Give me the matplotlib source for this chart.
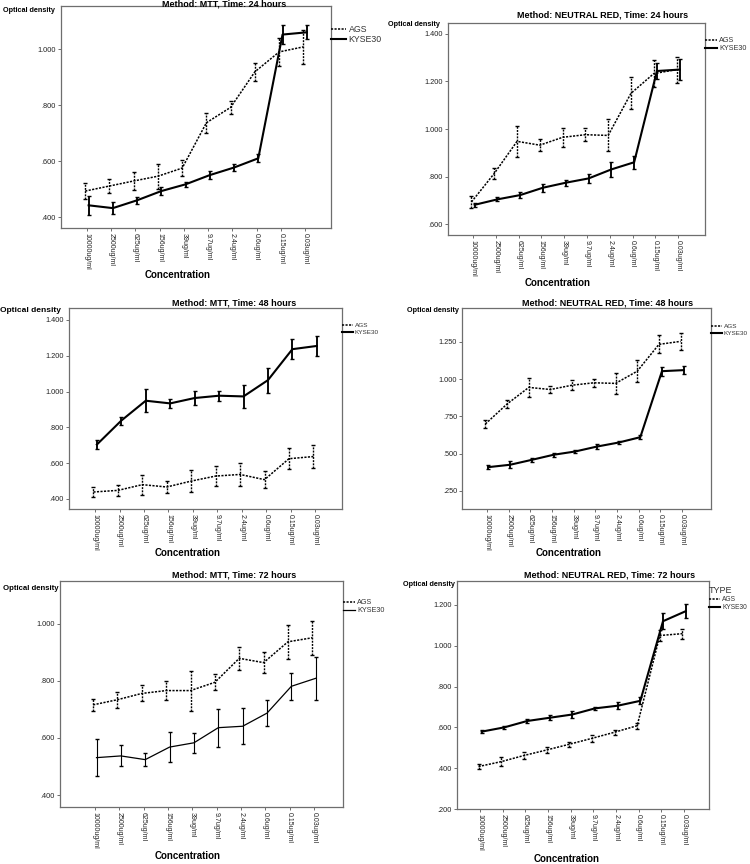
import numpy as np
import matplotlib
matplotlib.use('Agg')
import matplotlib.pyplot as plt

plt.rcParams['font.family'] = ['Liberation Sans', 'DejaVu Sans']

conc = ['10000ug/ml', '2500ug/ml', '625ug/ml', '156ug/ml', '39ug/ml',
        '9.7ug/ml', '2.4ug/ml', '0.6ug/ml', '0.15ug/ml', '0.03ug/ml']

# MTT 24 h
mtt24_ags = [0.493, 0.511, 0.529, 0.546, 0.575, 0.737, 0.792, 0.919, 0.990, 1.008]
mtt24_ags_err = [0.030, 0.025, 0.031, 0.045, 0.030, 0.036, 0.024, 0.033, 0.050, 0.060]
mtt24_kyse = [0.442, 0.432, 0.460, 0.493, 0.517, 0.550, 0.577, 0.610, 1.052, 1.060]
mtt24_kyse_err = [0.034, 0.022, 0.012, 0.015, 0.010, 0.015, 0.013, 0.015, 0.035, 0.025]

# Neutral red 24 h
nr24_ags = [0.693, 0.813, 0.948, 0.932, 0.965, 0.976, 0.973, 1.150, 1.233, 1.250]
nr24_ags_err = [0.025, 0.022, 0.064, 0.024, 0.040, 0.028, 0.067, 0.067, 0.057, 0.055]
nr24_kyse = [0.681, 0.704, 0.722, 0.753, 0.774, 0.792, 0.830, 0.860, 1.244, 1.250]
nr24_kyse_err = [0.008, 0.008, 0.012, 0.016, 0.012, 0.020, 0.030, 0.027, 0.035, 0.045]

# MTT 48 h
mtt48_ags = [0.439, 0.448, 0.480, 0.467, 0.500, 0.528, 0.537, 0.508, 0.625, 0.637]
mtt48_ags_err = [0.028, 0.032, 0.055, 0.033, 0.060, 0.055, 0.065, 0.048, 0.058, 0.064]
mtt48_kyse = [0.704, 0.838, 0.949, 0.934, 0.964, 0.977, 0.973, 1.064, 1.237, 1.255]
mtt48_kyse_err = [0.025, 0.022, 0.065, 0.023, 0.037, 0.028, 0.066, 0.070, 0.057, 0.055]

# Neutral red 48 h
nr48_ags = [0.700, 0.834, 0.945, 0.931, 0.960, 0.976, 0.972, 1.054, 1.234, 1.254]
nr48_ags_err = [0.027, 0.025, 0.065, 0.024, 0.035, 0.028, 0.070, 0.075, 0.060, 0.055]
nr48_kyse = [0.410, 0.426, 0.459, 0.493, 0.515, 0.548, 0.575, 0.611, 1.054, 1.061]
nr48_kyse_err = [0.012, 0.022, 0.012, 0.013, 0.010, 0.015, 0.013, 0.015, 0.030, 0.025]

# MTT 72 h
mtt72_ags = [0.716, 0.734, 0.756, 0.766, 0.766, 0.795, 0.879, 0.864, 0.937, 0.951]
mtt72_ags_err = [0.022, 0.028, 0.028, 0.033, 0.070, 0.028, 0.040, 0.038, 0.060, 0.060]
mtt72_kyse = [0.531, 0.537, 0.524, 0.568, 0.583, 0.636, 0.641, 0.687, 0.781, 0.809]
mtt72_kyse_err = [0.066, 0.037, 0.022, 0.054, 0.036, 0.066, 0.063, 0.046, 0.048, 0.076]

# Neutral red 72 h
nr72_ags = [0.408, 0.432, 0.462, 0.489, 0.517, 0.546, 0.576, 0.608, 1.050, 1.059]
nr72_ags_err = [0.012, 0.022, 0.015, 0.015, 0.012, 0.017, 0.013, 0.015, 0.025, 0.025]
nr72_kyse = [0.579, 0.600, 0.631, 0.647, 0.663, 0.693, 0.706, 0.730, 1.120, 1.169]
nr72_kyse_err = [0.008, 0.008, 0.010, 0.012, 0.017, 0.008, 0.017, 0.017, 0.040, 0.035]

W, H = 750, 864
fig = plt.figure(figsize=(W / 100, H / 100), dpi=100)
fig.patch.set_facecolor('white')

DOT = (0, (1.4, 0.9))
FRAME = '#6e6e6e'


def fmt(v):
    s = '%.3f' % v
    if s.startswith('0.'):
        s = s[1:]
    return s


def panel(box, ags, ags_err, kyse, kyse_err, ylim, yticks, xlim, title, title_xy,
          od_xy, od_size, conc_xy, leg_top, leg_fs, kyse_lw=1.5, leg_title=None):
    l, r, t, b = box
    ax = fig.add_axes([l / W, 1 - b / H, (r - l) / W, (b - t) / H])
    x = np.arange(len(conc))
    e1 = ax.errorbar(x - 0.07, ags, yerr=ags_err, color='black', lw=1.1, ls=DOT,
                     elinewidth=1.0, capsize=1.2, capthick=1.0)
    e1[2][0].set_linestyle(DOT)
    e2 = ax.errorbar(x + 0.07, kyse, yerr=kyse_err, color='black', lw=kyse_lw, ls='-',
                     elinewidth=kyse_lw * 0.9, capsize=1.2, capthick=1.0)
    ax.set_xlim(xlim)
    ax.set_ylim(ylim)
    ax.set_xticks(x)
    ax.set_xticklabels(conc, rotation=-90, fontsize=5.0, color='#222222')
    ax.set_yticks(yticks)
    ax.set_yticklabels([fmt(v) for v in yticks], fontsize=5.3, color='#222222')
    ax.tick_params(direction='out', length=2, width=0.7, color=FRAME, pad=1.5)
    for sp in ax.spines.values():
        sp.set_color(FRAME)
        sp.set_linewidth(0.9)
    frac = (b - leg_top) / (b - t)
    leg = ax.legend([e1[0], e2[0]], ['AGS', 'KYSE30'], loc='upper left',
                    bbox_to_anchor=(1.0, frac), frameon=False, fontsize=leg_fs,
                    handlelength=1.7, handletextpad=0.3, borderpad=0, borderaxespad=0,
                    labelspacing=0.15, title=leg_title, title_fontsize=6.5,
                    alignment='left')
    for txt in leg.get_texts():
        txt.set_color('#333333')
    if leg_title:
        leg.get_title().set_color('#333333')
        leg._legend_box.align = 'left'
    fig.text(title_xy[0] / W, 1 - title_xy[1] / H, title, ha='center', va='center',
             fontsize=6.5, fontweight='bold')
    fig.text(od_xy[0] / W, 1 - od_xy[1] / H, 'Optical density', ha='left', va='center',
             fontsize=od_size, fontweight='bold')
    fig.text(conc_xy[0] / W, 1 - conc_xy[1] / H, 'Concentration', ha='center',
             va='center', fontsize=7, fontweight='bold')
    return ax


panel((61, 331, 6, 228), mtt24_ags, mtt24_ags_err, mtt24_kyse, mtt24_kyse_err,
      (0.361, 1.154), [0.4, 0.6, 0.8, 1.0], (-1.07, 10.07),
      'Method: MTT, Time: 24 hours', (224, 4), (3, 11), 5.2, (178, 275), 25, 6.3)

panel((448, 705, 23, 235), nr24_ags, nr24_ags_err, nr24_kyse, nr24_kyse_err,
      (0.554, 1.446), [0.6, 0.8, 1.0, 1.2, 1.4], (-1.1, 10.18),
      'Method: NEUTRAL RED, Time: 24 hours', (603, 15), (388, 24), 5.2, (558, 283), 37, 5.2)

panel((69, 342, 308, 509), mtt48_ags, mtt48_ags_err, mtt48_kyse, mtt48_kyse_err,
      (0.344, 1.467), [0.4, 0.6, 0.8, 1.0, 1.2, 1.4], (-1.07, 10.1),
      'Method: MTT, Time: 48 hours', (234, 303), (0, 310), 6.0, (188, 553), 323, 4.6)

panel((462, 711, 308, 509), nr48_ags, nr48_ags_err, nr48_kyse, nr48_kyse_err,
      (0.129, 1.478), [0.25, 0.5, 0.75, 1.0, 1.25], (-1.15, 10.33),
      'Method: NEUTRAL RED, Time: 48 hours', (608, 303), (407, 310), 5.2, (569, 553), 324, 4.6)

panel((60, 343, 581, 807), mtt72_ags, mtt72_ags_err, mtt72_kyse, mtt72_kyse_err,
      (0.358, 1.150), [0.4, 0.6, 0.8, 1.0], (-1.43, 10.19),
      'Method: MTT, Time: 72 hours', (234, 575), (3, 588), 5.6, (188, 856), 599, 5.2,
      kyse_lw=0.9)

panel((457, 709, 581, 809), nr72_ags, nr72_ags_err, nr72_kyse, nr72_kyse_err,
      (0.2, 1.317), [0.2, 0.4, 0.6, 0.8, 1.0, 1.2], (-1.02, 10.1),
      'Method: NEUTRAL RED, Time: 72 hours', (610, 575), (403, 585), 5.2, (567, 859), 586,
      4.8, leg_title='TYPE')

fig.savefig('out.png', dpi=100, facecolor='white')
